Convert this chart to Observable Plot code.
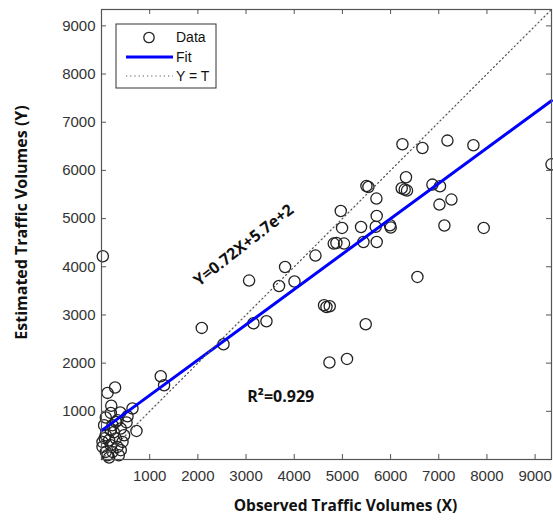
<!DOCTYPE html>
<html><head><meta charset="utf-8">
<script src="https://cdn.jsdelivr.net/npm/d3@7"></script>
<script src="https://cdn.jsdelivr.net/npm/@observablehq/plot@0.6"></script>
<style>
body{margin:0;background:#fff}
#chart{width:553px;height:520px;overflow:hidden}
</style>
</head><body><div id="chart"></div>
<script>
// Observed (X) and estimated (Y) traffic volumes
const observedX = [
  2081,2532,3063,3154,3424,3685,3810,4005,4441,4619,4669,4737,4731,5096,
  4820,4876,5034,4966,4993,5387,5437,5706,5712,5712,5499,5540,5484,
  6246,6661,7180,7719,9340,6320,6231,6293,6341,6868,7026,7014,7263,
  5691,5988,6003,7117,7933,6557,27,
  1230,1299,282,125,643,203,193,390,540,89,520,332,726,54,297,228,193,400,
  469,89,21,158,297,436,21,193,332,89,228,400,158,125,255,68,359
];
const estimatedY = [
  2731,2392,3714,2828,2870,3602,3996,3694,4233,3202,3166,3181,2013,2087,
  4482,4494,4482,5158,4806,4826,4515,5416,5055,4515,5677,5656,2807,
  6543,6466,6619,6522,6127,5858,5630,5603,5582,5706,5671,5291,5395,
  4830,4862,4814,4856,4806,3789,4219,
  1728,1542,1494,1382,1058,1116,967,978,898,872,770,815,593,712,780,712,608,643,
  504,504,365,400,436,365,261,297,261,158,158,193,40,89,566,442,89
];
const xTicks = [1000,2000,3000,4000,5000,6000,7000,8000,9000];
const yTicks = [1000,2000,3000,4000,5000,6000,7000,8000,9000];
const axisMin = 0, axisMax = 9340;
const fitSlope = 0.733, fitIntercept = 600;
const fitLabel = "Y=0.72X+5.7e+2";
const r2Label = "R\u00B2=0.929";
const fitLabelAt = [2953, 4447];
const r2LabelAt = [3720, 1293];
const legendLabels = ["Data", "Fit", "Y = T"];
const xTitle = "Observed Traffic Volumes (X)";
const yTitle = "Estimated Traffic Volumes (Y)";

const points = observedX.map((x, i) => ({x, y: estimatedY[i]}));
const fitLine = [axisMin, axisMax].map(x => ({x, y: fitSlope * x + fitIntercept}));
const identityLine = [axisMin, axisMax].map(v => ({x: v, y: v}));

const W = 553, H = 520, mL = 101, mR = 2, mT = 9, mB = 61;
const innerH = H - mT - mB, innerW = W - mL - mR;
const sans = "'Liberation Sans', Arial, sans-serif";
const bold = "'Open Sans', Lato, sans-serif";

const plot = Plot.plot({
  width: W, height: H,
  marginLeft: mL, marginRight: mR, marginTop: mT, marginBottom: mB,
  style: {fontFamily: sans, background: "#fff", overflow: "visible"},
  x: {domain: [axisMin, axisMax]},
  y: {domain: [axisMin, axisMax]},
  marks: [
    Plot.dot(points, {x: "x", y: "y", r: 5.6, stroke: "#222", strokeWidth: 1.3, fill: "none"}),
    Plot.line(fitLine, {x: "x", y: "y", stroke: "#0000ff", strokeWidth: 3}),
    Plot.line(identityLine, {x: "x", y: "y", stroke: "#555", strokeWidth: 1.2, strokeDasharray: "1.2,3"}),
    Plot.frame({stroke: "#555", strokeWidth: 1.2}),
    Plot.tickX(xTicks, {x: d => d, insetTop: innerH - 5, stroke: "#555"}),
    Plot.tickX(xTicks, {x: d => d, insetBottom: innerH - 5, stroke: "#555"}),
    Plot.tickY(yTicks, {y: d => d, insetRight: innerW - 5, stroke: "#555"}),
    Plot.tickY(yTicks, {y: d => d, insetLeft: innerW - 5, stroke: "#555"}),
    Plot.axisX(xTicks, {tickSize: 0, tickPadding: 11, fontSize: 15, fill: "#333", label: null, tickFormat: d3.format("d")}),
    Plot.axisY(yTicks, {tickSize: 0, tickPadding: 6, fontSize: 15, fill: "#333", label: null, tickFormat: d3.format("d")}),
    Plot.text([fitLabel], {x: fitLabelAt[0], y: fitLabelAt[1], text: d => d, rotate: -38,
      fontSize: 16, fontWeight: "bold", fontFamily: bold, fill: "#111"}),
    Plot.text([r2Label], {x: r2LabelAt[0], y: r2LabelAt[1], text: d => d,
      fontSize: 16, fontWeight: "bold", fontFamily: bold, fill: "#111"}),
    Plot.text([xTitle], {text: d => d, frameAnchor: "bottom", textAnchor: "middle", lineAnchor: "middle",
      dx: 19, dy: 47, fontSize: 15.5, fontWeight: "bold", fontFamily: bold, fill: "#111"}),
    Plot.text([yTitle], {text: d => d, frameAnchor: "left", textAnchor: "middle", lineAnchor: "middle",
      rotate: -90, dx: -80, dy: -12, fontSize: 16, fontWeight: "bold", fontFamily: bold, fill: "#111"})
  ]
});

// Legend box (MATLAB style) inside the axes
const svg = d3.select(plot);
const lg = svg.append("g").attr("font-family", sans).attr("font-size", 14).attr("text-anchor", "start");
lg.append("rect").attr("x", 116).attr("y", 24).attr("width", 100).attr("height", 64)
  .attr("fill", "#fff").attr("stroke", "#333").attr("stroke-width", 1);
const rowY = [37.5, 57, 76];
legendLabels.forEach((label, i) => {
  const y = rowY[i];
  if (i === 0) {
    lg.append("circle").attr("cx", 149).attr("cy", y).attr("r", 5.2)
      .attr("fill", "none").attr("stroke", "#222").attr("stroke-width", 1.3);
  } else if (i === 1) {
    lg.append("line").attr("x1", 126).attr("x2", 173).attr("y1", y).attr("y2", y)
      .attr("stroke", "#0000ff").attr("stroke-width", 3);
  } else {
    lg.append("line").attr("x1", 126).attr("x2", 173).attr("y1", y).attr("y2", y)
      .attr("stroke", "#555").attr("stroke-width", 1.2).attr("stroke-dasharray", "1.2,3");
  }
  lg.append("text").attr("x", 176).attr("y", y).attr("dy", "0.35em").attr("fill", "#111")
    .attr("text-anchor", "start").text(label);
});

document.getElementById("chart").appendChild(plot);
</script>
</body></html>
